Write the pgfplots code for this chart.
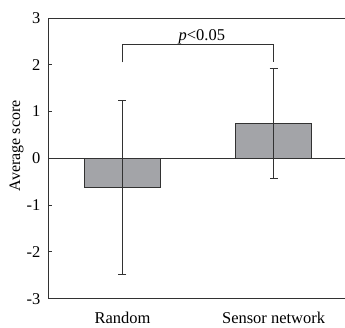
\documentclass[border=0pt]{standalone}
\usepackage{pgfplots}
\pgfplotsset{compat=1.18}
\usepackage{fontspec}
\setmainfont{Liberation Serif}
\definecolor{barfill}{RGB}{163,164,168}
\definecolor{linec}{RGB}{50,50,50}
\begin{document}
\begin{tikzpicture}
\begin{axis}[
  name=ax,
  scale only axis,
  width=296.5pt, height=281pt,
  xmin=-0.49, xmax=1.47,
  ymin=-3, ymax=3,
  ytick={-3,-2,-1,0,1,2,3},
  xtick={0,1},
  xticklabels={Random,Sensor network},
  axis x line*=box,
  axis y line*=left,
  axis line style={draw=linec, line width=0.8pt},
  x axis line style={-},
  y axis line style={-},
  ytick style={draw=linec, line width=0.8pt},
  xtick style={draw=none},
  tick align=inside,
  major tick length=3.5pt,
  /pgf/number format/assume math mode=true,
  yticklabel style={font=\fontsize{16.5}{17}\selectfont, inner sep=0pt, xshift=-8pt},
  xticklabel style={font=\fontsize{16.5}{17}\selectfont, yshift=-10pt},
  ylabel={Average score},
  every axis y label/.style={at={(axis description cs:-0.108,0.545)}, anchor=center, rotate=90, font=\fontsize{16}{17}\selectfont},
  clip=false,
]
\draw[linec, line width=0.7pt] (axis cs:-0.49,0) -- (axis cs:1.47,0);
\addplot[ybar, bar width=0.5, fill=barfill, draw=linec, line width=0.7pt,
  error bars/.cd, y dir=both, y explicit,
  error bar style={draw=linec, line width=0.7pt},
  error mark options={draw=linec, line width=0.7pt, mark size=4pt, rotate=90}]
  coordinates {(0,-0.62) +- (0,1.85) (1,0.75) +- (0,1.17)};
\draw[linec, line width=0.7pt] (axis cs:0,2.05) -- (axis cs:0,2.43) -- (axis cs:1,2.43) -- (axis cs:1,2.05);
\node[font=\fontsize{16.5}{17}\selectfont, anchor=base] at (axis cs:0.525,2.51) {\textit{p}<0.05};
\end{axis}
\path[use as bounding box] ([xshift=-48.5pt,yshift=-23pt]ax.south west) rectangle ([yshift=18pt]ax.north east);
\end{tikzpicture}
\end{document}
